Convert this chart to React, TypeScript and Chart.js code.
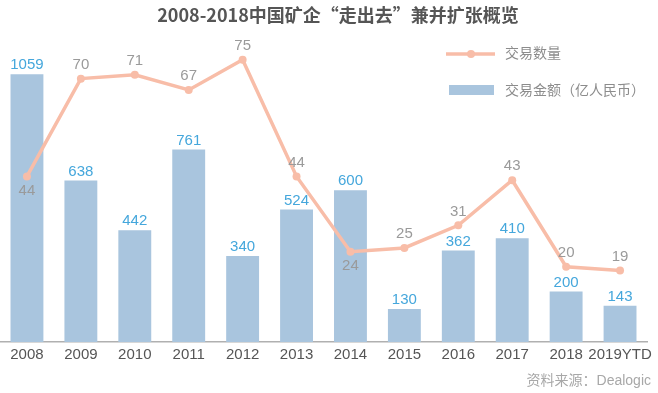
import React, { useEffect, useRef } from "react";
import { Chart, registerables } from "chart.js";

Chart.register(...registerables);

const chartTitle = "2008-2018中国矿企“走出去”兼并扩张概览";
const categories = ["2008", "2009", "2010", "2011", "2012", "2013", "2014", "2015", "2016", "2017", "2018", "2019YTD"];
const dealAmount = [1059, 638, 442, 761, 340, 524, 600, 130, 362, 410, 200, 143];
const dealCount = [44, 70, 71, 67, 75, 44, 24, 25, 31, 43, 20, 19];
const countLabelBelow = ["2008", "2014"];
const countLegend = "交易数量";
const amountLegend = "交易金额（亿人民币）";
const sourceText = "资料来源：Dealogic";

const FONT = '"Liberation Sans", Arial, "Noto Sans CJK SC", sans-serif';
const TITLE_FONT = '"Noto Sans CJK SC", "Liberation Sans", sans-serif';
const BAR_COLOR = "#a9c5de";
const LINE_COLOR = "#f8bda8";
const BAR_LABEL = "#45a7dc";
const LINE_LABEL = "#9a9a9a";
const SHIFT = 4;

const decorPlugin = {
  id: "decor",
  afterDatasetsDraw(chart: any) {
    const ctx = chart.ctx;
    ctx.save();
    ctx.textAlign = "center";
    ctx.textBaseline = "middle";
    ctx.font = `15px ${FONT}`;
    const barMeta = chart.getDatasetMeta(1);
    barMeta.data.forEach((el: any, i: number) => {
      ctx.fillStyle = BAR_LABEL;
      ctx.fillText(String(dealAmount[i]), el.x, el.y - 9);
    });
    const lineMeta = chart.getDatasetMeta(0);
    lineMeta.data.forEach((el: any, i: number) => {
      ctx.fillStyle = LINE_LABEL;
      const below = countLabelBelow.includes(categories[i]);
      ctx.fillText(String(dealCount[i]), el.x, el.y + (below ? 14 : -14));
    });
    ctx.restore();
  },
  afterDraw(chart: any) {
    const ctx = chart.ctx;
    ctx.save();
    ctx.translate(SHIFT, 0);
    // title
    ctx.textAlign = "center";
    ctx.textBaseline = "middle";
    ctx.fillStyle = "#555555";
    ctx.font = `bold 18px ${TITLE_FONT}`;
    ctx.fillText(chartTitle, 338, 15);
    // legend
    ctx.strokeStyle = LINE_COLOR;
    ctx.lineWidth = 3.5;
    ctx.beginPath();
    ctx.moveTo(446, 54);
    ctx.lineTo(495, 54);
    ctx.stroke();
    ctx.fillStyle = LINE_COLOR;
    ctx.beginPath();
    ctx.arc(471, 54, 4, 0, Math.PI * 2);
    ctx.fill();
    ctx.fillStyle = BAR_COLOR;
    ctx.fillRect(449, 85, 45, 10);
    ctx.textAlign = "left";
    ctx.fillStyle = "#8c8c8c";
    ctx.font = `14px ${FONT}`;
    ctx.fillText(countLegend, 505, 54);
    ctx.fillText(amountLegend, 505, 91);
    // source
    ctx.textAlign = "right";
    ctx.fillStyle = "#a8a8a8";
    ctx.font = `14px ${FONT}`;
    ctx.fillText(sourceText, 651, 381);
    ctx.restore();
  },
};

export default function App() {
  const ref = useRef<HTMLCanvasElement>(null);
  useEffect(() => {
    if (!ref.current) return;
    const chart = new Chart(ref.current, {
      type: "bar",
      data: {
        labels: categories,
        datasets: [
          {
            type: "line",
            label: countLegend,
            data: dealCount,
            yAxisID: "y1",
            borderColor: LINE_COLOR,
            backgroundColor: LINE_COLOR,
            borderWidth: 3.5,
            pointRadius: 4,
            pointBackgroundColor: LINE_COLOR,
            pointBorderWidth: 0,
            tension: 0,
            order: 0,
          } as any,
          {
            type: "bar",
            label: amountLegend,
            data: dealAmount,
            yAxisID: "y",
            backgroundColor: BAR_COLOR,
            barPercentage: 0.61,
            categoryPercentage: 1,
            order: 1,
          },
        ],
      },
      options: {
        animation: false,
        responsive: true,
        maintainAspectRatio: false,
        layout: { padding: { left: 0, right: 11, top: 41, bottom: 25 } },
        plugins: {
          legend: { display: false },
          title: { display: false },
          tooltip: { enabled: false },
        },
        scales: {
          x: {
            grid: { display: false, drawTicks: false },
            border: { display: true, color: "#b0b0b0", width: 1.5 },
            ticks: {
              color: "#555555",
              font: { family: FONT, size: 15 },
              padding: 4,
              autoSkip: false,
              maxRotation: 0,
            },
          },
          y: { display: false, min: 0, max: 1190 },
          y1: { display: false, min: 0, max: 80, position: "right" },
        },
      },
      plugins: [decorPlugin],
    });
    return () => chart.destroy();
  }, []);
  return (
    <div style={{ position: "absolute", left: -SHIFT, top: 0, width: 658 + SHIFT, height: 393, background: "#fff" }}>
      <canvas ref={ref} />
    </div>
  );
}
